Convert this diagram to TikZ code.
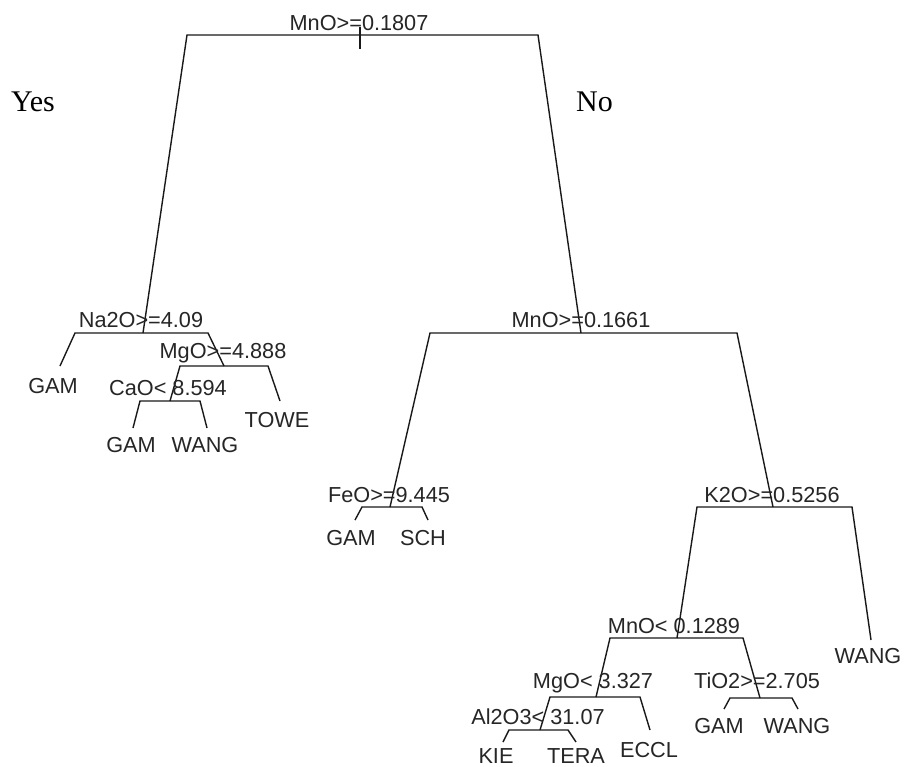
\documentclass[tikz,border=0pt]{standalone}
\usepackage{fontspec}
\setmainfont{Liberation Sans}
\newfontfamily\serifyn{Liberation Serif}
\begin{document}
\begin{tikzpicture}[x=1pt,y=-1pt,
  lbl/.style={font=\fontsize{21.7}{21.7}\selectfont, anchor=base, inner sep=0pt, text=black!85},
  yn/.style={font=\serifyn\fontsize{30}{30}\selectfont, anchor=base west, inner sep=0pt},
  br/.style={line width=1.4pt, line join=miter, black!90}]
\useasboundingbox (0,0) rectangle (904,767);
\fill[white] (0,0) rectangle (904,767);
% split points and bar ends
\coordinate (r) at (360,35); \coordinate (rL) at (187,35); \coordinate (rR) at (538,35);
\coordinate (rT) at (360,27); \coordinate (rB) at (360,49);
\coordinate (a) at (143,333); \coordinate (aL) at (75,333); \coordinate (aR) at (208,333);
\coordinate (b) at (581,333); \coordinate (bL) at (430,333); \coordinate (bR) at (737,333);
\coordinate (c) at (224,366); \coordinate (cL) at (180,366); \coordinate (cR) at (268,366);
\coordinate (d) at (170,401); \coordinate (dL) at (140,401); \coordinate (dR) at (200,401);
\coordinate (e) at (390,507); \coordinate (eL) at (362,507); \coordinate (eR) at (422,507);
\coordinate (f) at (773,507); \coordinate (fL) at (697,507); \coordinate (fR) at (852,507);
\coordinate (g) at (677,638); \coordinate (gL) at (610,638); \coordinate (gR) at (743,638);
\coordinate (h) at (596,697); \coordinate (hL) at (550,697); \coordinate (hR) at (640,697);
\coordinate (i) at (760,698); \coordinate (iL) at (730,698); \coordinate (iR) at (792,698);
\coordinate (j) at (540,730); \coordinate (jL) at (509,730); \coordinate (jR) at (568,730);
% leaf ends
\coordinate (l1) at (60,366);
\coordinate (l2) at (280,401);
\coordinate (l3) at (133,428); \coordinate (l4) at (207,428);
\coordinate (l5) at (355,520); \coordinate (l6) at (428,520);
\coordinate (l7) at (871,640);
\coordinate (l8) at (724,709); \coordinate (l9) at (798,709);
\coordinate (l10) at (503,742); \coordinate (l11) at (576,742);
\coordinate (l12) at (650,730);
% branches
\draw[br] (rT) -- (rB);
\draw[br] (a) -- (rL) -- (rR) -- (b);
\draw[br] (l1) -- (aL) -- (aR) -- (c);
\draw[br] (e) -- (bL) -- (bR) -- (f);
\draw[br] (d) -- (cL) -- (cR) -- (l2);
\draw[br] (l3) -- (dL) -- (dR) -- (l4);
\draw[br] (l5) -- (eL) -- (eR) -- (l6);
\draw[br] (g) -- (fL) -- (fR) -- (l7);
\draw[br] (h) -- (gL) -- (gR) -- (i);
\draw[br] (j) -- (hL) -- (hR) -- (l12);
\draw[br] (l8) -- (iL) -- (iR) -- (l9);
\draw[br] (l10) -- (jL) -- (jR) -- (l11);
% split labels
\node[lbl] (t0) at (359,31) {MnO>=0.1807};
\node[lbl] (t1) at (141,327) {Na2O>=4.09};
\node[lbl] (t2) at (581,327) {MnO>=0.1661};
\node[lbl] (t3) at (223,358) {MgO>=4.888};
\node[lbl] (t4) at (168,395) {CaO< 8.594};
\node[lbl] (t5) at (389,502) {FeO>=9.445};
\node[lbl] (t6) at (772,502) {K2O>=0.5256};
\node[lbl] (t7) at (674,633) {MnO< 0.1289};
\node[lbl] (t8) at (593,688) {MgO< 3.327};
\node[lbl] (t9) at (757,688) {TiO2>=2.705};
\node[lbl] (t10) at (538,724) {Al2O3< 31.07};
% leaf labels
\node[lbl] (L1) at (53,393) {GAM};
\node[lbl] (L2) at (277,427) {TOWE};
\node[lbl] (L3) at (131,452) {GAM};
\node[lbl] (L4) at (205,452) {WANG};
\node[lbl] (L5) at (351,545) {GAM};
\node[lbl] (L6) at (423,545) {SCH};
\node[lbl] (L7) at (868,663) {WANG};
\node[lbl] (L8) at (719,733) {GAM};
\node[lbl] (L9) at (797,733) {WANG};
\node[lbl] (L10) at (496,763) {KIE};
\node[lbl] (L11) at (576,763) {TERA};
\node[lbl] (L12) at (649,757) {ECCL};
% Yes / No
\node[yn] (yes) at (11,112) {Yes};
\node[yn] (no) at (576,112) {No};
\end{tikzpicture}
\end{document}
